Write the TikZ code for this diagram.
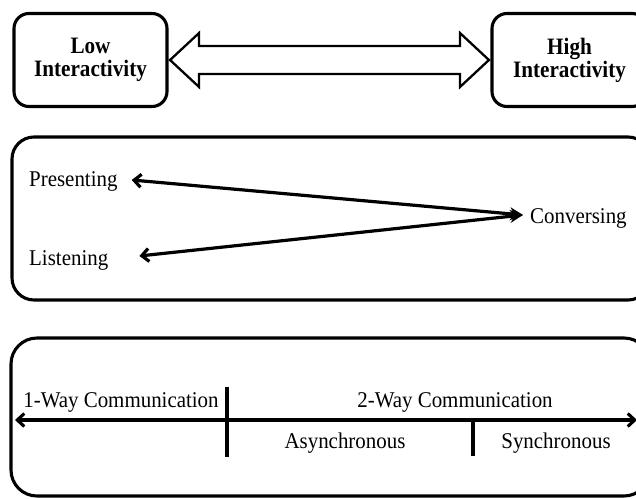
\documentclass[tikz,border=0pt]{standalone}
\usepackage{fontspec}
\setmainfont[FakeStretch=0.93]{Liberation Serif}
\newfontfamily\condbold[FakeStretch=0.9]{Liberation Serif Bold}
\usetikzlibrary{arrows.meta,calc}
\begin{document}
\begin{tikzpicture}[x=1pt,y=-1pt,
  panel/.style={draw, line width=3.1pt, inner sep=0pt},
  lbl/.style={font=\fontsize{22.5}{23}\selectfont, inner sep=0pt},
  blbl/.style={font=\fontsize{23.5}{23}\condbold, align=center},
  ln/.style={line width=3.1pt},
  dbl/.style={line width=2.3pt, line join=miter},
  arr/.style={line width=3.2pt, {Stealth[length=13pt,width=13pt]}-{Straight Barb[length=7pt,width=13pt]}},
  axis/.style={line width=3.1pt, {Straight Barb[length=7pt,width=13pt]}-{Straight Barb[length=7pt,width=13pt]}}
]
\useasboundingbox (0,0) rectangle (636,498);
\clip (0,0) rectangle (636,498);

% top row
\node[panel, rounded corners=15pt, minimum width=153pt, minimum height=93pt, blbl] (low) at (90.5,60) {Low\\Interactivity};
\node[panel, rounded corners=15pt, minimum width=155pt, minimum height=93pt, blbl] (high) at (569.5,60) {High\\Interactivity};
\draw[dbl] let \p1=($(low.east)+(1.5,0)$), \p2=($(high.west)+(-1.5,0)$) in
  (\x1,\y1) -- (\x1+29pt,\y1+27pt) -- (\x1+29pt,\y1+14pt) -- (\x2-29pt,\y2+14pt)
  -- (\x2-29pt,\y2+27pt) -- (\x2,\y2) -- (\x2-29pt,\y2-27pt) -- (\x2-29pt,\y2-14pt)
  -- (\x1+29pt,\y1-14pt) -- (\x1+29pt,\y1-27pt) -- cycle;

% middle panel
\node[panel, rounded corners=22pt, minimum width=638pt, minimum height=163pt] (mid) at (331,218.5) {};
\node[lbl, anchor=base west] (pres) at (29,186) {Presenting};
\node[lbl, anchor=base west] (list) at (29,265) {Listening};
\node[lbl, anchor=base west] (conv) at (530,223) {Conversing};
\coordinate (meet) at ($(conv.west)+(-7,-3)$);
\draw[arr] (meet) -- ($(pres.east)+(14,-1)$);
\draw[arr] (meet) -- ($(list.east)+(31,-4)$);

% bottom panel
\node[panel, rounded corners=26pt, minimum width=639pt, minimum height=158pt] (bot) at (330.5,417) {};
\coordinate (hl) at (15,420);
\coordinate (hr) at (637,420);
\draw[axis] (hl) -- (hr);
\coordinate (d1t) at (227,387);
\coordinate (d1b) at (227,457);
\coordinate (d2t) at (473,420);
\coordinate (d2b) at (473,456);
\draw[ln] (d1t) -- (d1b);
\draw[ln] (d2t) -- (d2b);
\node[lbl, anchor=base] (oneway) at (121,407) {1-Way Communication};
\node[lbl, anchor=base] (twoway) at (455,407) {2-Way Communication};
\node[lbl, anchor=base] (async) at (345,448) {Asynchronous};
\node[lbl, anchor=base] (sync) at (556,448) {Synchronous};
\end{tikzpicture}
\end{document}
